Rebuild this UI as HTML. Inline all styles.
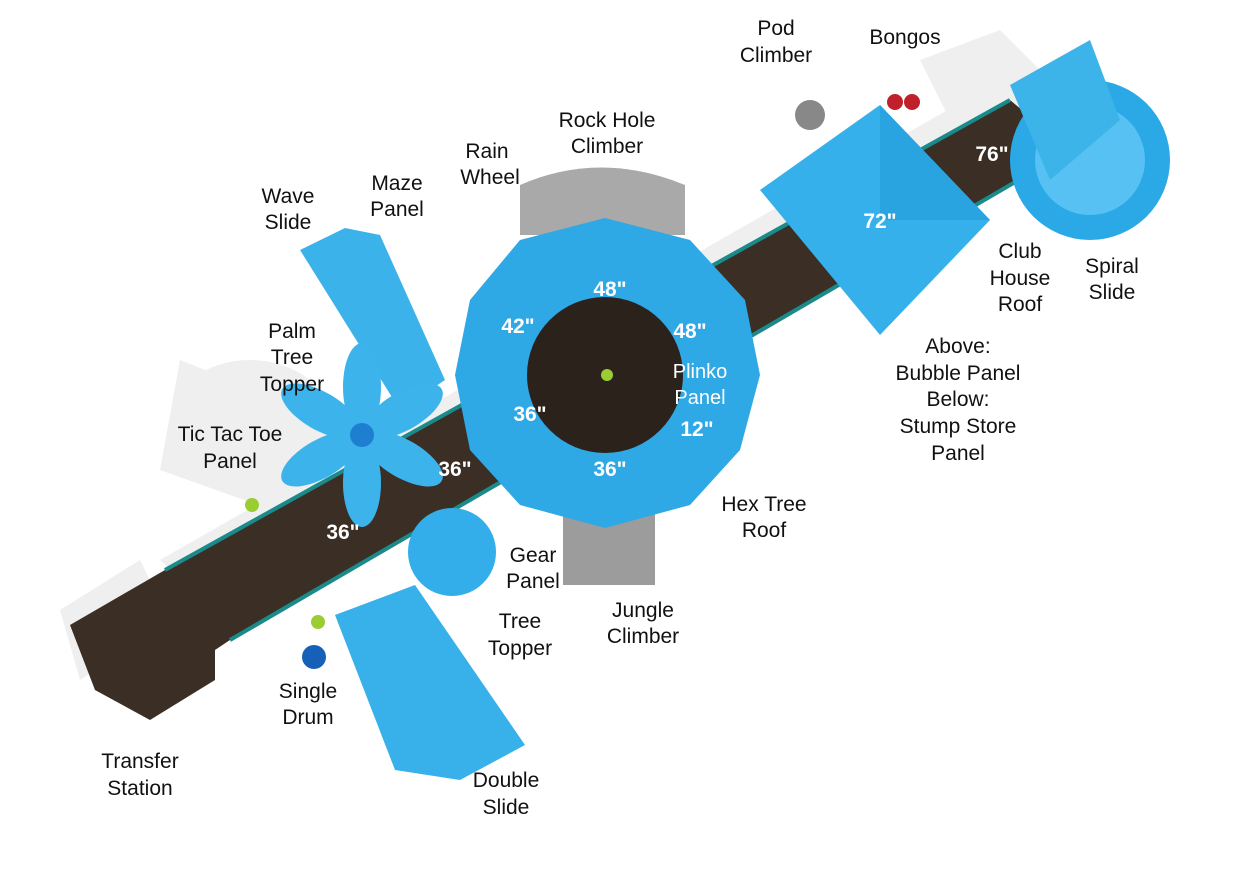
<!DOCTYPE html>
<html><head><meta charset="utf-8"><style>
html,body{margin:0;padding:0;background:#fff;}
svg{display:block}
text{font-family:"Liberation Sans",sans-serif;}
.l{font-size:21px;fill:#111;text-anchor:middle;}
.w{font-size:21px;fill:#fff;font-weight:bold;text-anchor:middle;}
.p{font-size:20px;fill:#fff;text-anchor:middle;}
</style></head><body>
<svg width="1235" height="872" viewBox="0 0 1235 872">
<g fill="#efefef">
<polygon points="160,560 1000,80 1060,150 230,620"/>
<polygon points="920,60 1000,30 1060,90 960,140"/>
<ellipse cx="250" cy="420" rx="80" ry="60"/>
<polygon points="180,360 330,420 300,520 160,470"/>
<polygon points="60,610 140,560 170,620 80,680"/>
</g>
<polygon points="70,625 165,570 1010,100 1070,150 230,640 215,650 215,680 150,720 95,690" fill="#3a2e25"/>
<polyline points="165,570 1010,100" stroke="#1a8a8a" stroke-width="4" fill="none"/>
<polyline points="230,640 1070,150" stroke="#1a8a8a" stroke-width="4" fill="none"/>
<path d="M520,235 L520,185 Q600,150 685,185 L685,235 Z" fill="#a9a9a9"/>
<rect x="563" y="505" width="92" height="80" fill="#9c9c9c"/>
<circle cx="1090" cy="160" r="80" fill="#2aa9e6"/>
<circle cx="1090" cy="160" r="55" fill="#56c1f2"/>
<polygon points="1010,85 1090,40 1120,120 1050,180" fill="#3cb4ea"/>
<polygon points="760,190 880,105 990,220 880,335" fill="#36b0ea"/>
<polygon points="880,105 990,220 880,220" fill="#2aa4e0"/>
<polygon points="300,250 345,228 380,235 445,380 400,410" fill="#3cb2ea"/>
<polygon points="335,615 415,585 525,745 460,780 395,770" fill="#38b0ea"/>
<polygon points="605,218 690,240 745,300 760,375 740,450 690,505 605,528 520,505 470,450 455,375 470,300 520,240" fill="#2fa8e6"/>
<circle cx="605" cy="375" r="78" fill="#2b221c"/>
<circle cx="607" cy="375" r="6" fill="#9acd32"/>
<g fill="#3db3ec" transform="translate(362,435)">
<ellipse cx="0" cy="-48" rx="19" ry="44"/>
<ellipse cx="0" cy="-48" rx="19" ry="44" transform="rotate(60)"/>
<ellipse cx="0" cy="-48" rx="19" ry="44" transform="rotate(120)"/>
<ellipse cx="0" cy="-48" rx="19" ry="44" transform="rotate(180)"/>
<ellipse cx="0" cy="-48" rx="19" ry="44" transform="rotate(240)"/>
<ellipse cx="0" cy="-48" rx="19" ry="44" transform="rotate(300)"/>
<circle r="12" fill="#1e7fd0"/>
</g>
<circle cx="452" cy="552" r="44" fill="#33aeea"/>
<circle cx="314" cy="657" r="12" fill="#1760b8"/>
<circle cx="810" cy="115" r="15" fill="#888"/>
<circle cx="895" cy="102" r="8" fill="#c0202a"/><circle cx="912" cy="102" r="8" fill="#c0202a"/>
<circle cx="252" cy="505" r="7" fill="#9acd32"/><circle cx="318" cy="622" r="7" fill="#9acd32"/>
<text class="l" x="776" y="35">Pod</text><text class="l" x="776" y="62">Climber</text>
<text class="l" x="905" y="44">Bongos</text>
<text class="l" x="607" y="127">Rock Hole</text><text class="l" x="607" y="153">Climber</text>
<text class="l" x="487" y="158">Rain</text><text class="l" x="490" y="184">Wheel</text>
<text class="l" x="397" y="190">Maze</text><text class="l" x="397" y="216">Panel</text>
<text class="l" x="288" y="203">Wave</text><text class="l" x="288" y="229">Slide</text>
<text class="l" x="1020" y="258">Club</text><text class="l" x="1020" y="285">House</text><text class="l" x="1020" y="311">Roof</text>
<text class="l" x="1112" y="273">Spiral</text><text class="l" x="1112" y="299">Slide</text>
<text class="l" x="292" y="338">Palm</text><text class="l" x="292" y="364">Tree</text><text class="l" x="292" y="391">Topper</text>
<text class="l" x="958" y="353">Above:</text><text class="l" x="958" y="380">Bubble Panel</text><text class="l" x="958" y="406">Below:</text><text class="l" x="958" y="433">Stump Store</text><text class="l" x="958" y="460">Panel</text>
<text class="l" x="230" y="441">Tic Tac Toe</text><text class="l" x="230" y="468">Panel</text>
<text class="l" x="764" y="511">Hex Tree</text><text class="l" x="764" y="537">Roof</text>
<text class="l" x="533" y="562">Gear</text><text class="l" x="533" y="588">Panel</text>
<text class="l" x="643" y="617">Jungle</text><text class="l" x="643" y="643">Climber</text>
<text class="l" x="520" y="628">Tree</text><text class="l" x="520" y="655">Topper</text>
<text class="l" x="308" y="698">Single</text><text class="l" x="308" y="724">Drum</text>
<text class="l" x="140" y="768">Transfer</text><text class="l" x="140" y="795">Station</text>
<text class="l" x="506" y="787">Double</text><text class="l" x="506" y="814">Slide</text>
<text class="w" x="992" y="161">76"</text>
<text class="w" x="880" y="228">72"</text>
<text class="w" x="610" y="296">48"</text>
<text class="w" x="518" y="333">42"</text>
<text class="w" x="690" y="338">48"</text>
<text class="p" x="700" y="378">Plinko</text><text class="p" x="700" y="404">Panel</text>
<text class="w" x="530" y="421">36"</text>
<text class="w" x="697" y="436">12"</text>
<text class="w" x="610" y="476">36"</text>
<text class="w" x="455" y="476">36"</text>
<text class="w" x="343" y="539">36"</text>
</svg>
</body></html>
